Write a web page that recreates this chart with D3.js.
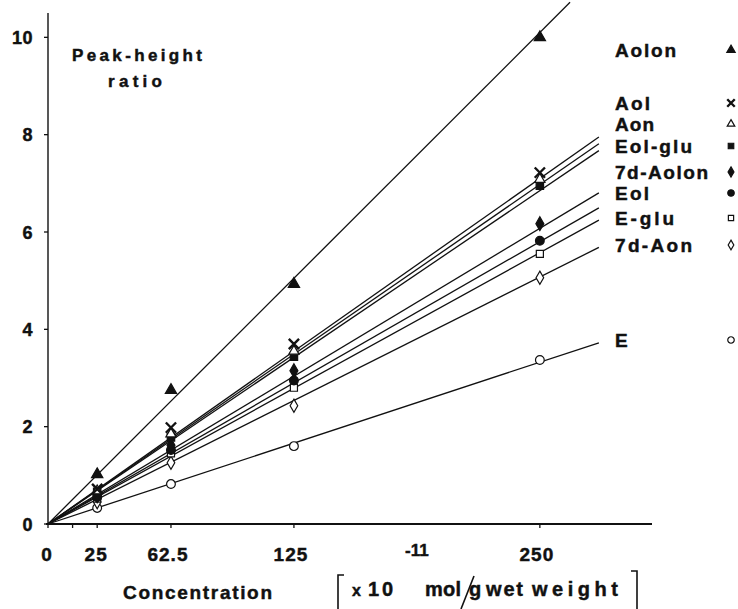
<!DOCTYPE html>
<html>
<head>
<meta charset="utf-8">
<script src="https://cdn.jsdelivr.net/npm/d3@7"></script>
<style>
  body { margin: 0; background: #fff; }
  svg text { font-family: "Liberation Sans", Arial, Helvetica, sans-serif; font-weight: bold; fill: #111; stroke: #111; stroke-width: 0.45px; }
</style>
</head>
<body>
<div id="chart"></div>
<script>
// Calibration: peak-height ratio vs concentration
const concentration = [25, 62.5, 125, 250];

const aolon    = [1.02, 2.75, 4.93, 10.0];
const aol      = [0.72, 1.98, 3.70, 7.22];
const aon      = [0.68, 1.85, 3.55, 7.08];
const eolGlu   = [0.66, 1.78, 3.44, 6.95];
const d7Aolon  = [0.58, 1.62, 3.15, 6.17];
const eol      = [0.55, 1.52, 2.95, 5.82];
const eGlu     = [0.52, 1.45, 2.80, 5.55];
const d7Aon    = [0.45, 1.26, 2.43, 5.06];
const eSeries  = [0.33, 0.82, 1.60, 3.37];

const seriesNames  = ["Aolon", "Aol", "Aon", "Eol-glu", "7d-Aolon", "Eol", "E-glu", "7d-Aon", "E"];
const seriesValues = [aolon, aol, aon, eolGlu, d7Aolon, eol, eGlu, d7Aon, eSeries];

// slopes of the fitted lines through the origin
const fitSlopes = [0.0404, 0.0284, 0.0279, 0.0274, 0.0243, 0.0232, 0.0223, 0.0203, 0.0133];
const fitEnd = 280;

const xTicks = [0, 25, 62.5, 125, 250];
const xMinorTicks = [12.5];
const yTicks = [0, 2, 4, 6, 8, 10];

// marker style per series (same order as seriesNames)
const markerKinds = ["triFill", "times", "triOpen", "sqFill", "diaFill", "circFill", "sqOpen", "diaOpen", "circOpen"];
// legend layout
const legendY = [50, 103, 124, 146, 172, 193, 218, 245, 340];
const legendWidths = [61, 35, 39, 77, 93, 34, 59, 77, 11];

function createChart() {
    const W = 738, H = 609;
    const svg = d3.select("#chart").append("svg")
        .attr("width", W)
        .attr("height", H);

    const x = d3.scaleLinear().domain([0, 307]).range([48, 652]);
    const y = d3.scaleLinear().domain([0, 10.5]).range([524, 13]);

    // axes
    svg.append("line")
        .attr("x1", x(0)).attr("x2", x(0))
        .attr("y1", y(0)).attr("y2", y(10.5))
        .attr("stroke", "#111").attr("stroke-width", 1.4);
    svg.append("line")
        .attr("x1", x(0) - 2).attr("x2", x(307))
        .attr("y1", y(0)).attr("y2", y(0))
        .attr("stroke", "#111").attr("stroke-width", 1.8);

    svg.selectAll(".ytick")
        .data(yTicks)
        .enter().append("line")
        .attr("x1", x(0) - 4).attr("x2", x(0))
        .attr("y1", d => y(d)).attr("y2", d => y(d))
        .attr("stroke", "#111").attr("stroke-width", 1.3);

    svg.selectAll(".ylabel")
        .data(yTicks)
        .enter().append("text")
        .attr("x", 33)
        .attr("y", d => y(d) + 6.5)
        .attr("text-anchor", "end")
        .style("font-size", "18px")
        .style("letter-spacing", "0.5px")
        .text(d => d);

    svg.selectAll(".xtick")
        .data(xTicks.concat(xMinorTicks))
        .enter().append("line")
        .attr("x1", d => x(d)).attr("x2", d => x(d))
        .attr("y1", y(0)).attr("y2", y(0) + 4)
        .attr("stroke", "#111").attr("stroke-width", 1.3);

    svg.selectAll(".xlabel")
        .data(xTicks)
        .enter().append("text")
        .attr("x", d => x(d) - (d >= 62.5 ? 3 : 1))
        .attr("y", 561)
        .attr("text-anchor", "middle")
        .style("font-size", "19px")
        .style("letter-spacing", "1px")
        .text(d => d);

    // fitted lines
    seriesValues.forEach((vals, i) => {
        const end = Math.min(fitEnd, 10.72 / fitSlopes[i]);
        svg.append("line")
            .attr("x1", x(0)).attr("y1", y(0))
            .attr("x2", x(end)).attr("y2", y(end * fitSlopes[i]))
            .attr("stroke", "#111").attr("stroke-width", 1.3);
    });

    function drawMarker(sel, kind, scale) {
        const s = scale;
        let path, fill = "#111", stroke = "#111", sw = 1.2;
        if (kind === "triFill")  path = d3.symbol(d3.symbolTriangle, 55 * s);
        if (kind === "triOpen")  { path = d3.symbol(d3.symbolTriangle, 45 * s); fill = "#fff"; }
        if (kind === "times")    { path = d3.symbol(d3.symbolTimes, 70 * s); fill = "none"; sw = 2.4; }
        if (kind === "sqFill")   path = d3.symbol(d3.symbolSquare, 55 * s);
        if (kind === "sqOpen")   { path = d3.symbol(d3.symbolSquare, 50 * s); fill = "#fff"; }
        if (kind === "diaFill")  path = d3.symbol(d3.symbolDiamond, 55 * s);
        if (kind === "diaOpen")  { path = d3.symbol(d3.symbolDiamond, 50 * s); fill = "#fff"; }
        if (kind === "circFill") path = d3.symbol(d3.symbolCircle, 60 * s);
        if (kind === "circOpen") { path = d3.symbol(d3.symbolCircle, 60 * s); fill = "#fff"; }
        sel.append("path")
            .attr("d", path)
            .attr("fill", fill)
            .attr("stroke", stroke)
            .attr("stroke-width", sw);
    }

    // data points (draw bottom series first so upper ones stay on top)
    for (let i = seriesValues.length - 1; i >= 0; i--) {
        seriesValues[i].forEach((v, j) => {
            const gm = svg.append("g")
                .attr("transform", `translate(${x(concentration[j])},${y(v)})`);
            drawMarker(gm, markerKinds[i], 1);
        });
    }

    // legend
    seriesNames.forEach((name, i) => {
        svg.append("text")
            .attr("x", 615)
            .attr("y", legendY[i] + 7)
            .attr("textLength", legendWidths[i])
            .attr("lengthAdjust", "spacing")
            .style("font-size", "19px")
            .text(name);
        const gm = svg.append("g")
            .attr("transform", `translate(731,${legendY[i]})`);
        drawMarker(gm, markerKinds[i], 0.55);
    });

    // y title
    svg.append("text")
        .attr("x", 72).attr("y", 61)
        .attr("textLength", 130).attr("lengthAdjust", "spacing")
        .style("font-size", "17px")
        .text("Peak-height");
    svg.append("text")
        .attr("x", 108).attr("y", 87)
        .attr("textLength", 54).attr("lengthAdjust", "spacing")
        .style("font-size", "17px")
        .text("ratio");

    // x title
    svg.append("text")
        .attr("x", 123).attr("y", 599)
        .attr("textLength", 149).attr("lengthAdjust", "spacing")
        .style("font-size", "19px")
        .text("Concentration");

    // unit in brackets
    const unit = svg.append("g");
    unit.append("path")
        .attr("d", "M344,575 L338,575 L338,612")
        .attr("fill", "none").attr("stroke", "#111").attr("stroke-width", 1.6);
    unit.append("path")
        .attr("d", "M631,571 L637,571 L637,612")
        .attr("fill", "none").attr("stroke", "#111").attr("stroke-width", 1.6);
    unit.append("text").attr("x", 352).attr("y", 596).style("font-size", "16px").text("x");
    unit.append("text").attr("x", 368).attr("y", 596)
        .attr("textLength", 25).attr("lengthAdjust", "spacing")
        .style("font-size", "20px").text("10");
    unit.append("text").attr("x", 405).attr("y", 556).style("font-size", "17px").text("-11");
    unit.append("text").attr("x", 425).attr("y", 596)
        .attr("textLength", 36).attr("lengthAdjust", "spacing")
        .style("font-size", "20px").text("mol");
    unit.append("path")
        .attr("d", "M461,609 L474,576")
        .attr("stroke", "#111").attr("stroke-width", 1.6);
    unit.append("text").attr("x", 469).attr("y", 596).style("font-size", "20px").text("g");
    unit.append("text").attr("x", 486).attr("y", 596)
        .attr("textLength", 37).attr("lengthAdjust", "spacing")
        .style("font-size", "20px").text("wet");
    unit.append("text").attr("x", 532).attr("y", 596)
        .attr("textLength", 86).attr("lengthAdjust", "spacing")
        .style("font-size", "20px").text("weight");
}

createChart();
</script>
</body>
</html>
